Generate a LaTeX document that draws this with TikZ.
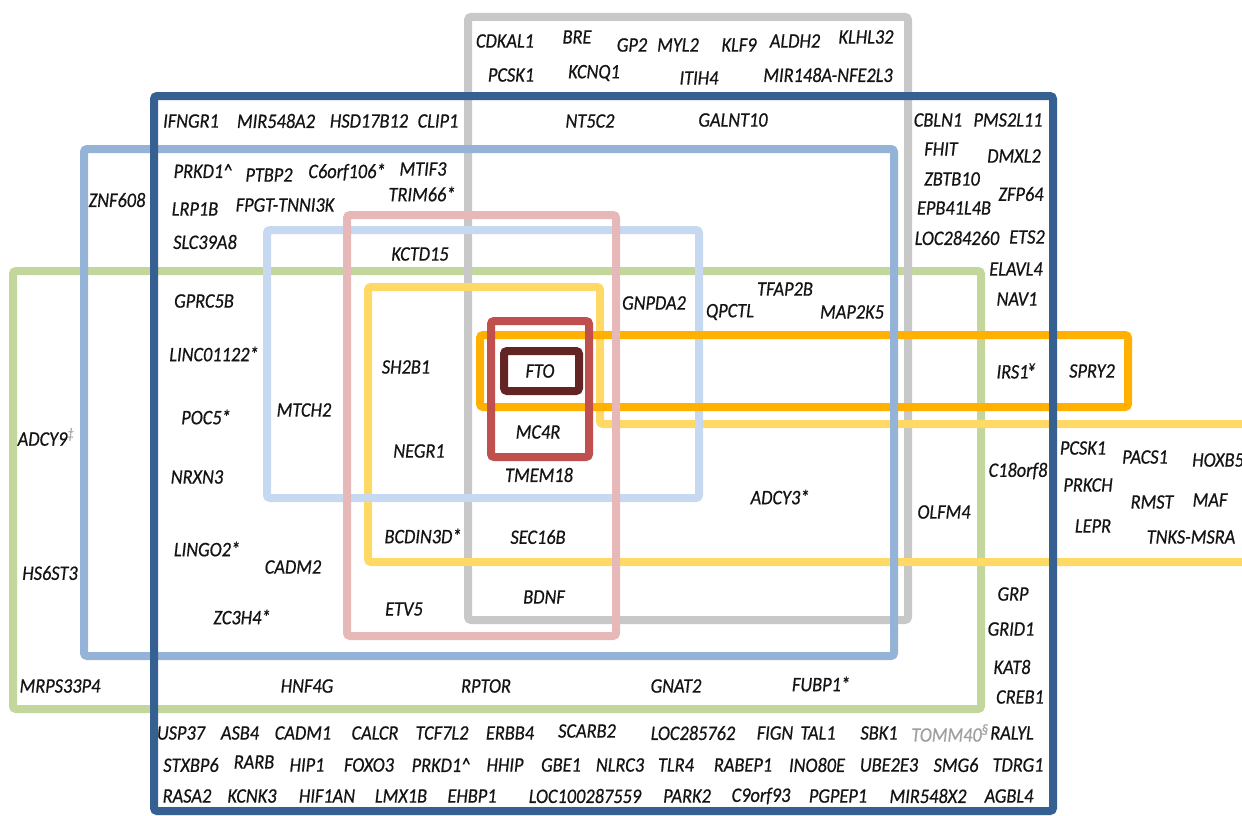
\documentclass[tikz,border=0pt]{standalone}
\usepackage{fontspec}
\setmainfont{Carlito}
\newfontfamily\genefont{Carlito}[FakeStretch=0.89,FakeBold=0.6]
\definecolor{cdblue}{HTML}{376092}
\definecolor{cmblue}{HTML}{95B3D7}
\definecolor{clblue}{HTML}{C6D9F1}
\definecolor{cpink}{HTML}{E6B9B8}
\definecolor{cgreen}{HTML}{C3D69B}
\definecolor{cgray}{HTML}{C8C8C8}
\definecolor{cyellow}{HTML}{FFD966}
\definecolor{corange}{HTML}{FFB000}
\definecolor{cred}{HTML}{C0504D}
\definecolor{cdred}{HTML}{632523}
\definecolor{ctxtgray}{HTML}{A0A0A0}
\definecolor{ctxt}{HTML}{141414}
\begin{document}
\begin{tikzpicture}[x=1pt,y=-1pt,
  setbox/.style={line width=8pt, rounded corners=3pt},
  gene/.style={font=\genefont\fontsize{20.6}{22}\selectfont\itshape, inner sep=0pt, anchor=center, text=ctxt}]
\useasboundingbox (0,0) rectangle (1242,816);
% --- set outlines (back to front) ---
\draw[setbox, cgreen]  (13,271) rectangle (981,709);
\draw[setbox, cgray]   (468,17) rectangle (908,620);
\draw[setbox, cyellow] (368,287) -- (600,287) -- (600,424) -- (1256,424) -- (1256,562) -- (368,562) -- cycle;
\draw[setbox, clblue]  (267,230) rectangle (699,498);
\draw[setbox, corange] (480,335) rectangle (1128,407);
\draw[setbox, cpink]   (347,215) rectangle (616,636);
\draw[setbox, cmblue]  (84,149) rectangle (894,656);
\draw[setbox, cdblue]  (154,96) rectangle (1053,811);
\draw[setbox, cred]    (491,321) rectangle (589,457);
\draw[setbox, cdred]   (504,351) rectangle (579,391);
% --- gray box top ---
\node[gene] (cdkal1) at (505,41) {CDKAL1};
\node[gene] (bre) at (577,37) {BRE};
\node[gene] (gp2) at (632,45) {GP2};
\node[gene] (myl2) at (678,45) {MYL2};
\node[gene] (klf9) at (739,45) {KLF9};
\node[gene] (aldh2) at (795,41) {ALDH2};
\node[gene] (klhl32) at (866,37) {KLHL32};
\node[gene] (pcsk1a) at (511,75) {PCSK1};
\node[gene] (kcnq1) at (594,73) {KCNQ1};
\node[gene] (itih4) at (699,78) {ITIH4};
\node[gene] (mir148a) at (828,75) {MIR148A-NFE2L3};
% --- dark blue top row ---
\node[gene] (ifngr1) at (191,121) {IFNGR1};
\node[gene] (mir548a2) at (276,121) {MIR548A2};
\node[gene] (hsd17b12) at (369,121) {HSD17B12};
\node[gene] (clip1) at (438,121) {CLIP1};
\node[gene] (nt5c2) at (590,121) {NT5C2};
\node[gene] (galnt10) at (733,120) {GALNT10};
% --- right column ---
\node[gene] (cbln1) at (938,120) {CBLN1};
\node[gene] (pms2l11) at (1008,120) {PMS2L11};
\node[gene] (fhit) at (941,149) {FHIT};
\node[gene] (dmxl2) at (1014,156) {DMXL2};
\node[gene] (zbtb10) at (952,179) {ZBTB10};
\node[gene] (zfp64) at (1021,194) {ZFP64};
\node[gene] (epb41l4b) at (954,208) {EPB41L4B};
\node[gene] (loc284260) at (957,238) {LOC284260};
\node[gene] (ets2) at (1027,237) {ETS2};
\node[gene] (elavl4) at (1016,269) {ELAVL4};
\node[gene] (nav1) at (1017,299) {NAV1};
\node[gene] (irs1) at (1016,371) {IRS1\textsuperscript{¥}};
\node[gene] (spry2) at (1092,371) {SPRY2};
% --- medium blue area ---
\node[gene] (znf608) at (117,200) {ZNF608};
\node[gene] (prkd1a) at (203,171) {PRKD1\textasciicircum};
\node[gene] (ptbp2) at (269,175) {PTBP2};
\node[gene] (c6orf106) at (347,172) {C6orf106*};
\node[gene] (mtif3) at (423,169) {MTIF3};
\node[gene] (trim66) at (422,194) {TRIM66*};
\node[gene] (lrp1b) at (195,209) {LRP1B};
\node[gene] (fpgt) at (285,205) {FPGT-TNNI3K};
\node[gene] (slc39a8) at (205,242) {SLC39A8};
\node[gene] (kctd15) at (420,254) {KCTD15};
% --- left inner column ---
\node[gene] (gprc5b) at (204,301) {GPRC5B};
\node[gene] (linc01122) at (214,354) {LINC01122*};
\node[gene] (poc5) at (206,417) {POC5*};
\node[gene] (nrxn3) at (197,477) {NRXN3};
\node[gene] (lingo2) at (207,549) {LINGO2*};
\node[gene] (cadm2) at (293,567) {CADM2};
\node[gene] (zc3h4) at (242,617) {ZC3H4*};
\node[gene] (mtch2) at (304,410) {MTCH2};
\node[gene] (sh2b1) at (406,367) {SH2B1};
\node[gene] (negr1) at (419,451) {NEGR1};
\node[gene] (bcdin3d) at (423,536) {BCDIN3D*};
\node[gene] (etv5) at (404,609) {ETV5};
% --- centre ---
\node[gene] (fto) at (540,371) {FTO};
\node[gene] (mc4r) at (538,432) {MC4R};
\node[gene] (tmem18) at (539,475) {TMEM18};
\node[gene] (sec16b) at (538,537) {SEC16B};
\node[gene] (bdnf) at (544,597) {BDNF};
\node[gene] (gnpda2) at (654,303) {GNPDA2};
\node[gene] (qpctl) at (730,312) {QPCTL};
\node[gene] (tfap2b) at (785,289) {TFAP2B};
\node[gene] (map2k5) at (852,312) {MAP2K5};
\node[gene] (adcy3) at (780,497) {ADCY3*};
\node[gene] (olfm4) at (944,512) {OLFM4};
% --- yellow extension right ---
\node[gene] (c18orf8) at (1018,471) {C18orf8};
\node[gene] (pcsk1b) at (1083,448) {PCSK1};
\node[gene] (prkch) at (1088,485) {PRKCH};
\node[gene] (lepr) at (1093,526) {LEPR};
\node[gene] (pacs1) at (1145,457) {PACS1};
\node[gene] (rmst) at (1152,502) {RMST};
\node[gene, anchor=west] (hoxb5) at (1192,460) {HOXB5};
\node[gene] (maf) at (1210,500) {MAF};
\node[gene] (tnks) at (1191,537) {TNKS-MSRA};
% --- green area ---
\node[gene] (adcy9) at (46,437) {ADCY9\textsuperscript{\color{ctxtgray}‡}};
\node[gene] (hs6st3) at (50,573) {HS6ST3};
\node[gene] (mrps33p4) at (60,686) {MRPS33P4};
\node[gene] (hnf4g) at (307,686) {HNF4G};
\node[gene] (rptor) at (486,686) {RPTOR};
\node[gene] (gnat2) at (676,686) {GNAT2};
\node[gene] (fubp1) at (821,684) {FUBP1*};
\node[gene] (grp) at (1013,594) {GRP};
\node[gene] (grid1) at (1011,629) {GRID1};
\node[gene] (kat8) at (1012,667) {KAT8};
\node[gene] (creb1) at (1020,697) {CREB1};
% --- bottom rows ---
\node[gene] (usp37) at (181,733) {USP37};
\node[gene] (asb4) at (240,733) {ASB4};
\node[gene] (cadm1) at (303,733) {CADM1};
\node[gene] (calcr) at (375,733) {CALCR};
\node[gene] (tcf7l2) at (442,733) {TCF7L2};
\node[gene] (erbb4) at (510,733) {ERBB4};
\node[gene] (scarb2) at (587,731) {SCARB2};
\node[gene] (loc285762) at (693,733) {LOC285762};
\node[gene] (fign) at (775,733) {FIGN};
\node[gene] (tal1) at (818,733) {TAL1};
\node[gene] (sbk1) at (879,733) {SBK1};
\node[gene, text=ctxtgray] (tomm40) at (950,733) {TOMM40\textsuperscript{§}};
\node[gene] (ralyl) at (1012,733) {RALYL};
\node[gene] (stxbp6) at (191,765) {STXBP6};
\node[gene] (rarb) at (254,762) {RARB};
\node[gene] (hip1) at (307,765) {HIP1};
\node[gene] (foxo3) at (369,765) {FOXO3};
\node[gene] (prkd1b) at (441,765) {PRKD1\textasciicircum};
\node[gene] (hhip) at (505,765) {HHIP};
\node[gene] (gbe1) at (561,765) {GBE1};
\node[gene] (nlrc3) at (620,765) {NLRC3};
\node[gene] (tlr4) at (676,765) {TLR4};
\node[gene] (rabep1) at (743,765) {RABEP1};
\node[gene] (ino80e) at (817,765) {INO80E};
\node[gene] (ube2e3) at (889,765) {UBE2E3};
\node[gene] (smg6) at (956,765) {SMG6};
\node[gene] (tdrg1) at (1018,765) {TDRG1};
\node[gene] (rasa2) at (187,796) {RASA2};
\node[gene] (kcnk3) at (252,796) {KCNK3};
\node[gene] (hif1an) at (327,796) {HIF1AN};
\node[gene] (lmx1b) at (401,796) {LMX1B};
\node[gene] (ehbp1) at (472,796) {EHBP1};
\node[gene] (loc100287559) at (585,796) {LOC100287559};
\node[gene] (park2) at (687,796) {PARK2};
\node[gene] (c9orf93) at (761,796) {C9orf93};
\node[gene] (pgpep1) at (838,796) {PGPEP1};
\node[gene] (mir548x2) at (928,796) {MIR548X2};
\node[gene] (agbl4) at (1009,796) {AGBL4};
\end{tikzpicture}
\end{document}
